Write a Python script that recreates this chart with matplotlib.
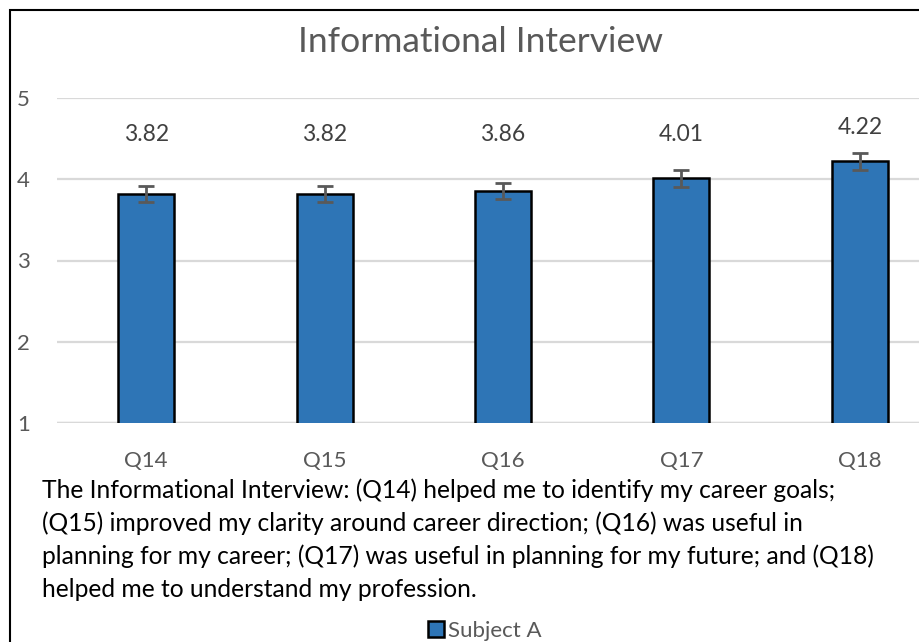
import numpy as np
import matplotlib
matplotlib.use("Agg")
import matplotlib.pyplot as plt
from matplotlib.patches import Rectangle

plt.rcParams['font.family'] = ['Lato', 'DejaVu Sans']

# Données
questions = ["Q14", "Q15", "Q16", "Q17", "Q18"]
moyennes = [3.82, 3.82, 3.86, 4.01, 4.22]
erreurs = [0.10, 0.10, 0.10, 0.10, 0.10]
etiquettes = ["3.82", "3.82", "3.86", "4.01", "4.22"]
hauteur_etiquettes = [4.55, 4.55, 4.55, 4.55, 4.64]
serie = "Subject A"
titre = "Informational Interview"
legende_texte = ("The Informational Interview: (Q14) helped me to identify my career goals;\n"
                 "(Q15) improved my clarity around career direction; (Q16) was useful in\n"
                 "planning for my career; (Q17) was useful in planning for my future; and (Q18)\n"
                 "helped me to understand my profession.")

W, H = 919, 642
fig = plt.figure(figsize=(W / 100, H / 100), dpi=100)

def px(x, y):
    return x / W, 1 - y / H

# Zone de tracé (en pixels)
gauche, droite, haut, bas = 57, 949, 98, 423
ax = fig.add_axes([gauche / W, 1 - bas / H, (droite - gauche) / W, (bas - haut) / H])

x = np.arange(len(questions))
barres = ax.bar(x, moyennes, width=0.315, color="#2E75B6", edgecolor="black",
                linewidth=1.8, zorder=3, label=serie)
ax.errorbar(x, moyennes, yerr=erreurs, fmt="none", ecolor="#595959",
            elinewidth=2, capsize=6, capthick=2, zorder=4)

for xi, h, t in zip(x, hauteur_etiquettes, etiquettes):
    ax.text(xi, h, t, ha="center", va="center", fontsize=16.5, color="#404040")

ax.set_xlim(-0.5, 4.5)
ax.set_ylim(1, 5)
ax.set_yticks([1, 2, 3, 4, 5])
ax.set_xticks(x)
ax.set_xticklabels(questions)
ax.grid(axis="y", color="#D9D9D9", linewidth=1.6, zorder=0)
for s in ax.spines.values():
    s.set_visible(False)
ax.axhline(1, color="#BFBFBF", linewidth=1.6, zorder=1)
ax.tick_params(axis="y", length=0, pad=24, labelsize=16, labelcolor="#595959")
ax.tick_params(axis="x", length=0, pad=20, labelsize=16, labelcolor="#595959")
for lbl in ax.get_yticklabels():
    lbl.set_horizontalalignment("center")

# Titre
fig.text(*px(480, 42), titre, ha="center", va="center", fontsize=25.5, color="#595959")

# Texte explicatif
fig.text(*px(42, 478), legende_texte, ha="left", va="top", fontsize=17.7,
         color="black", linespacing=1.5)

# Légende
fig.legend(handles=[barres], labels=[serie], loc="center",
           bbox_to_anchor=px(485, 631), frameon=False, fontsize=16,
           handlelength=0.7, handleheight=0.7, handletextpad=0.2,
           labelcolor="#595959")

# Cadre
fig.add_artist(Rectangle(px(10, 700), 2, 690 / H, transform=fig.transFigure,
                         fill=False, edgecolor="black", linewidth=1.5))

fig.savefig("out.png", dpi=100)
